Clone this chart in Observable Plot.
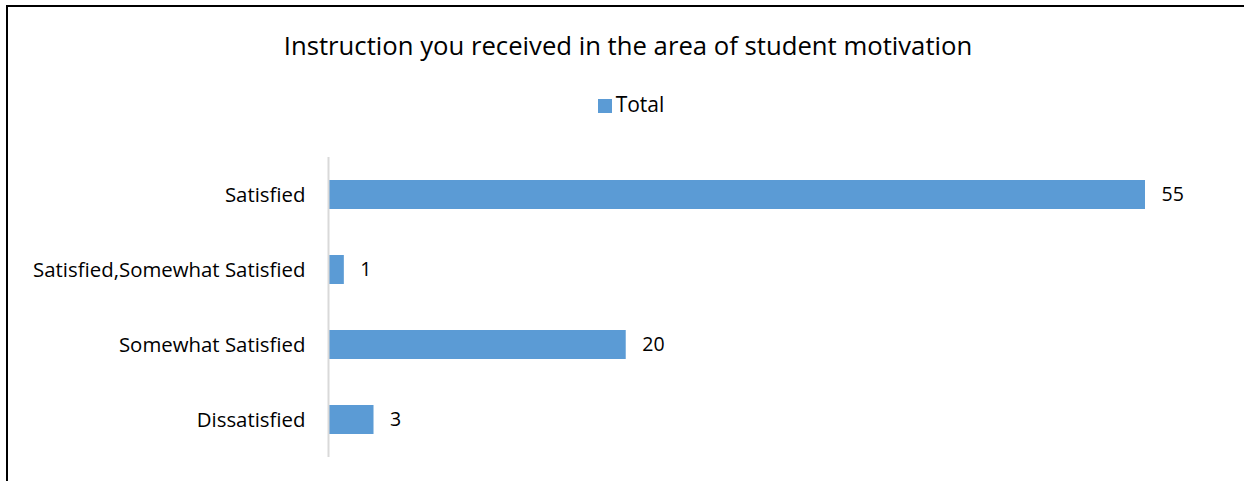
<!DOCTYPE html>
<html>
<head>
<meta charset="utf-8">
<script src="https://cdn.jsdelivr.net/npm/d3@7"></script>
<script src="https://cdn.jsdelivr.net/npm/@observablehq/plot@0.6"></script>
<style>
  html, body { margin: 0; padding: 0; background: #fff; }
  #wrap { position: relative; width: 1244px; height: 481px; overflow: hidden; font-family: "Open Sans", sans-serif; }
  #frame { position: absolute; left: 6px; top: 5px; width: 1400px; height: 700px; border-top: 2px solid #000; border-left: 2px solid #000; box-sizing: border-box; }
  #title { position: absolute; left: 0; width: 1256px; top: 28px; text-align: center; font-size: 25.7px; color: #000; line-height: 36px; }
  #legend { position: absolute; left: 0; width: 1262px; top: 89px; text-align: center; font-size: 21px; color: #000; line-height: 30px; }
  #legend .sw { display: inline-block; width: 14px; height: 14px; background: #5b9bd5; vertical-align: -1px; margin-right: 4px; }
  #chart { position: absolute; left: 0; top: 130px; }
</style>
</head>
<body>
<div id="wrap">
  <div id="frame"></div>
  <div id="title">Instruction you received in the area of student motivation</div>
  <div id="legend"><span class="sw"></span>Total</div>
  <div id="chart"></div>
</div>
<script>
const categories = ["Satisfied", "Satisfied,Somewhat Satisfied", "Somewhat Satisfied", "Dissatisfied"];
const totals = [55, 1, 20, 3];
const seriesName = "Total";

const data = categories.map((c, i) => ({category: c, value: totals[i]}));

const chart = Plot.plot({
  width: 1244,
  height: 351,
  marginTop: 27,
  marginBottom: 24,
  marginLeft: 329,
  marginRight: 99,
  style: {fontFamily: "Open Sans, sans-serif", fontSize: "20.4px", color: "#000", background: "transparent"},
  x: {domain: [0, 55], axis: null},
  y: {domain: categories, paddingInner: 0.61, paddingOuter: 0.305, label: null},
  marks: [
    Plot.barX(data, {x: "value", y: "category", fill: "#5b9bd5"}),
    Plot.ruleX([0], {stroke: "#d9d9d9", strokeWidth: 2, dx: -1}),
    Plot.axisY({tickSize: 0, tickPadding: 24, fontSize: 20.4, fill: "#000", label: null}),
    Plot.text(data, {x: "value", y: "category", text: d => String(d.value), dx: 16, textAnchor: "start", fontSize: 19.5, fill: "#000"})
  ]
});
document.getElementById("chart").appendChild(chart);
</script>
</body>
</html>
